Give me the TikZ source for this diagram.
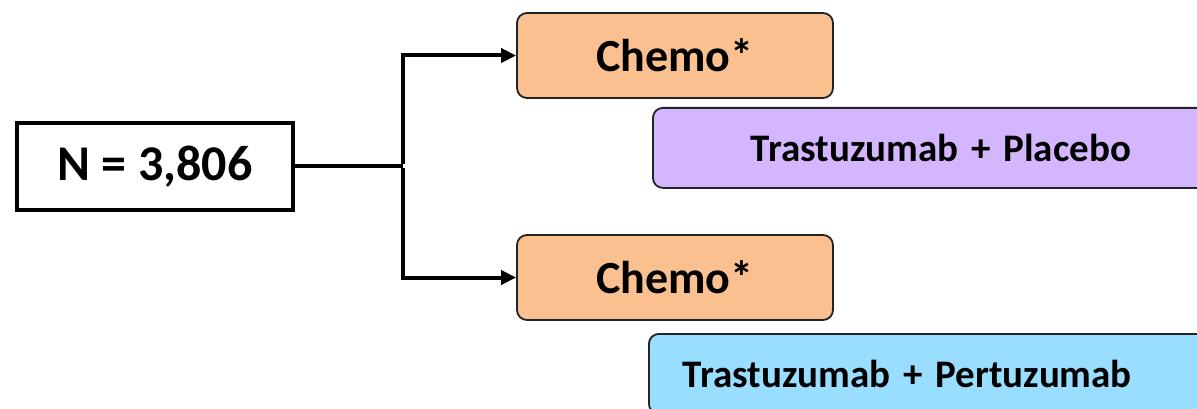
\documentclass[tikz,border=0pt]{standalone}
\usepackage{fontspec}
\setmainfont{Carlito}
\usetikzlibrary{arrows.meta}
\definecolor{orangefill}{RGB}{250,192,144}
\definecolor{purplefill}{RGB}{212,182,255}
\definecolor{bluefill}{RGB}{153,221,255}
\definecolor{edgegray}{RGB}{35,35,35}
\tikzset{
  armbox/.style={draw=edgegray, line width=1.8pt, rounded corners=10pt, minimum height=85pt, inner sep=0pt},
  drugbox/.style={draw=edgegray, line width=1.8pt, rounded corners=10pt, minimum height=80pt, inner ysep=0pt, align=left, anchor=north west},
  conn/.style={line width=4pt},
  arr/.style={line width=4pt, -{Triangle[length=15pt,width=14pt]}},
}
\begin{document}
\begin{tikzpicture}[x=1pt,y=1pt]
\useasboundingbox (0,0) rectangle (1197,-409);
\fill[white] (0,0) rectangle (1197,-409);
\clip (0,0) rectangle (1197,-409);
\node[draw=black, line width=4pt, minimum width=276pt, minimum height=87pt, inner sep=0pt, font=\fontsize{50}{56}\selectfont\bfseries] (n) at (155,-166.5) {N = 3,806};
\node[armbox, fill=orangefill, minimum width=316pt, font=\fontsize{46}{50}\selectfont\bfseries] (c1) at (675,-55.5) {Chemo*};
\node[armbox, fill=orangefill, minimum width=316pt, font=\fontsize{46}{50}\selectfont\bfseries] (c2) at (675,-277.5) {Chemo*};
\node[drugbox, fill=purplefill, text width=420pt, inner xsep=98pt, font=\fontsize{39}{44}\selectfont\bfseries] (p1) at (652,-107) {Trastuzumab + Placebo};
\node[drugbox, fill=bluefill, text width=520pt, inner xsep=34pt, font=\fontsize{39}{44}\selectfont\bfseries] (p2) at (648,-333) {Trastuzumab + Pertuzumab};
\coordinate (j) at (403,-166.5);
\draw[conn] (n.east) -- (j);
\draw[arr] ([yshift=2pt]j) |- (c1.west);
\draw[arr] ([yshift=-2pt]j) |- (c2.west);
\end{tikzpicture}
\end{document}
